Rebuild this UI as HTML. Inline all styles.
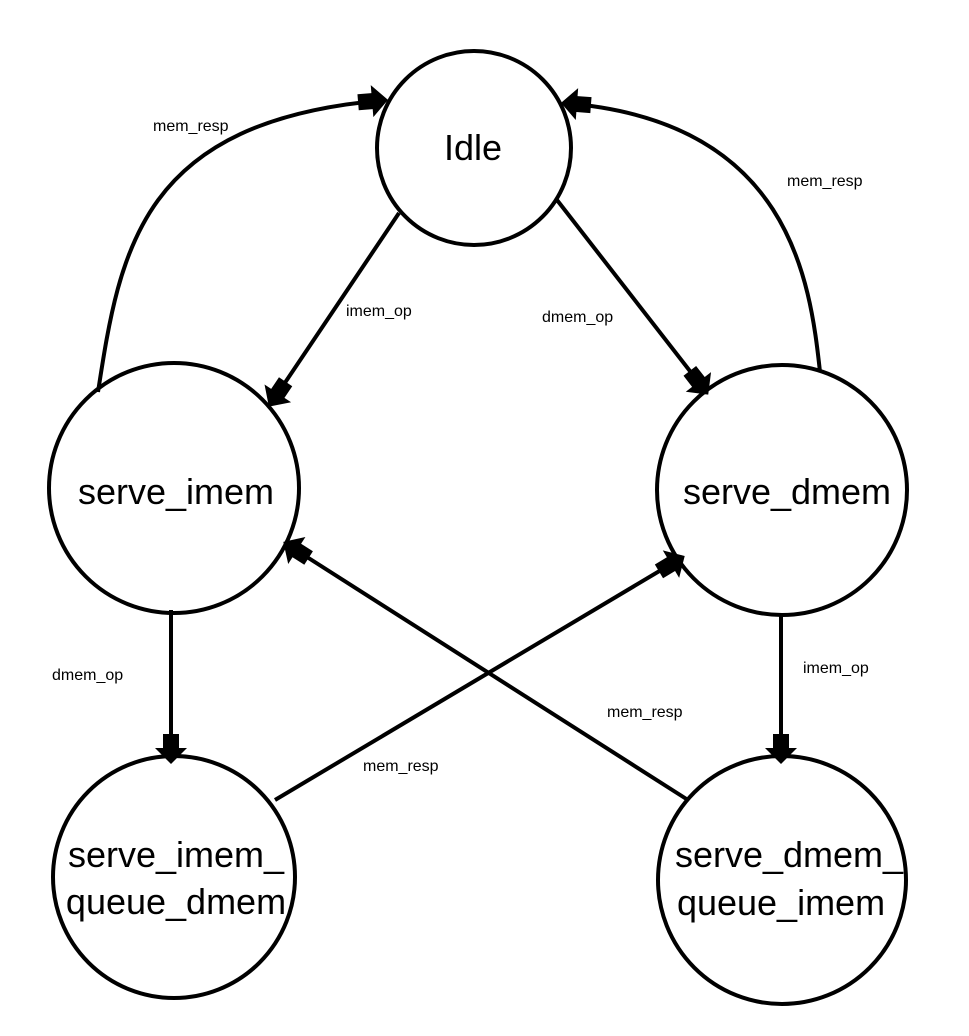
<!DOCTYPE html>
<html><head><style>body{margin:0;background:#fff}svg{display:block}</style></head><body>
<svg width="969" height="1036" viewBox="0 0 969 1036" xmlns="http://www.w3.org/2000/svg">
<defs>
<marker id="a" markerUnits="userSpaceOnUse" markerWidth="40" markerHeight="40" refX="30" refY="17" orient="auto">
<path d="M2,9 H16 V1 L32,17 L16,33 V25 H2 Z" fill="#000"/>
</marker>
</defs>
<g fill="none" stroke="#000" stroke-width="4">
<circle cx="474" cy="148" r="97"/>
<circle cx="174" cy="488" r="125"/>
<circle cx="782" cy="490" r="125"/>
<circle cx="174" cy="877" r="121"/>
<circle cx="782" cy="880" r="124"/>
<path d="M399,213 L270,405" marker-end="url(#a)"/>
<path d="M557,200 L707,393" marker-end="url(#a)"/>
<path d="M98,392 C120,250 140,120 386,100" marker-end="url(#a)"/>
<path d="M820,372 C810,280 790,120 563,103" marker-end="url(#a)"/>
<path d="M171,610 L171,762" marker-end="url(#a)"/>
<path d="M781,615 L781,762" marker-end="url(#a)"/>
<path d="M275,800 L683,557" marker-end="url(#a)"/>
<path d="M688,800 L285,543" marker-end="url(#a)"/>
</g>
<g font-family="Liberation Sans, sans-serif" fill="#000">
<g font-size="36" text-anchor="middle">
<text x="473" y="160">Idle</text>
<text x="176" y="504">serve_imem</text>
<text x="787" y="504">serve_dmem</text>
<text x="176" y="867">serve_imem_</text>
<text x="176" y="914">queue_dmem</text>
<text x="789" y="867">serve_dmem_</text>
<text x="781" y="915">queue_imem</text>
</g>
<g font-size="16">
<text x="153" y="131">mem_resp</text>
<text x="787" y="186">mem_resp</text>
<text x="346" y="316">imem_op</text>
<text x="542" y="322">dmem_op</text>
<text x="52" y="680">dmem_op</text>
<text x="803" y="673">imem_op</text>
<text x="607" y="717">mem_resp</text>
<text x="363" y="771">mem_resp</text>
</g>
</g>
</svg>
</body></html>
